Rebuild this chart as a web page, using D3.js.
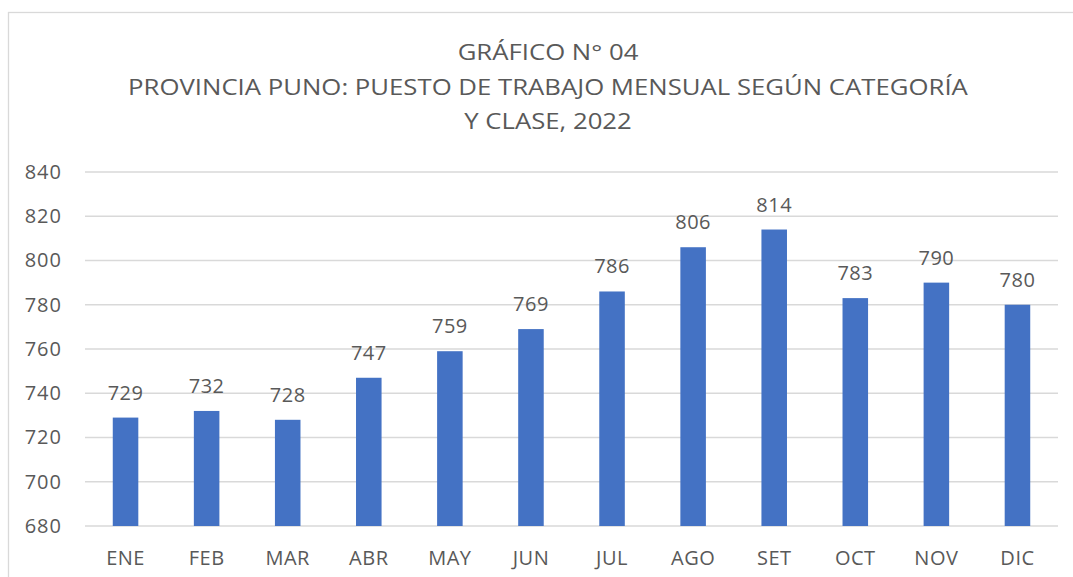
<!DOCTYPE html>
<html>
<head>
<meta charset="utf-8">
<title>Gráfico N° 04</title>
<style>
  body { margin: 0; background: #ffffff; }
  svg text { font-family: "Open Sans", sans-serif; fill: #595959; }
  .grid line { stroke: #d9d9d9; stroke-width: 1.3; }
  .bar { fill: #4472c4; }
</style>
<script src="https://d3js.org/d3.v7.min.js"></script>
</head>
<body>
<div id="canvas"></div>
<script>
// data
var meses = ["ENE", "FEB", "MAR", "ABR", "MAY", "JUN", "JUL", "AGO", "SET", "OCT", "NOV", "DIC"];
var puestos = [729, 732, 728, 747, 759, 769, 786, 806, 814, 783, 790, 780];
var yTicks = [680, 700, 720, 740, 760, 780, 800, 820, 840];
var titulo = ["GRÁFICO N° 04",
              "PROVINCIA PUNO: PUESTO DE TRABAJO MENSUAL SEGÚN CATEGORÍA",
              "Y CLASE, 2022"];

var W = 1073, H = 577;
var margin = {top: 172, right: 15, bottom: 51, left: 85};
var width = W - margin.left - margin.right,
    height = H - margin.top - margin.bottom;

var svg = d3.select("#canvas").append("svg")
    .attr("width", W).attr("height", H);

// chart border
svg.append("rect")
    .attr("x", 8.5).attr("y", 12.5)
    .attr("width", W + 10).attr("height", H + 10)
    .attr("fill", "none").attr("stroke", "#d9d9d9").attr("stroke-width", 1.3);

// title (the original text is a bit stretched sideways)
svg.selectAll(".titulo")
    .data(titulo)
    .enter().append("text")
    .attr("class", "titulo")
    .attr("transform", function(d, i) {
        return "translate(548," + (60 + i * 34.5) + ") scale(1.17,1)";
    })
    .attr("text-anchor", "middle")
    .style("font-size", "22px")
    .text(function(d) { return d; });

var g = svg.append("g")
    .attr("transform", "translate(" + margin.left + "," + margin.top + ")");

var x = d3.scaleBand().domain(meses).range([0, width])
    .paddingInner(0.685).paddingOuter(0.3425);
var y = d3.scaleLinear().domain([680, 840]).range([height, 0]);

// gridlines
g.append("g").attr("class", "grid")
  .selectAll("line")
  .data(yTicks)
  .enter().append("line")
    .attr("x1", 0).attr("x2", width)
    .attr("y1", function(d) { return y(d); })
    .attr("y2", function(d) { return y(d); });

// y axis labels
var yAxis = g.append("g")
    .call(d3.axisLeft(y).tickValues(yTicks).tickSize(0).tickPadding(23));
yAxis.select(".domain").remove();
yAxis.selectAll("text")
    .style("font-size", "20px")
    .style("letter-spacing", "1px")
    .style("font-family", "'Open Sans', sans-serif")
    .attr("fill", "#595959");

// x axis labels
var xAxis = g.append("g")
    .attr("transform", "translate(0," + height + ")")
    .call(d3.axisBottom(x).tickSize(0).tickPadding(25));
xAxis.select(".domain").remove();
xAxis.selectAll("text")
    .style("font-size", "20px")
    .style("letter-spacing", "0.5px")
    .style("font-family", "'Open Sans', sans-serif")
    .attr("fill", "#595959");

// bars
g.selectAll(".bar")
    .data(puestos)
    .enter().append("rect")
    .attr("class", "bar")
    .attr("x", function(d, i) { return x(meses[i]); })
    .attr("y", function(d) { return y(d); })
    .attr("width", x.bandwidth())
    .attr("height", function(d) { return height - y(d); });

// value labels
g.selectAll(".valor")
    .data(puestos)
    .enter().append("text")
    .attr("class", "valor")
    .attr("x", function(d, i) { return x(meses[i]) + x.bandwidth() / 2; })
    .attr("y", function(d) { return y(d) - 18; })
    .attr("text-anchor", "middle")
    .style("font-size", "20px")
    .style("letter-spacing", "0.5px")
    .text(function(d) { return d; });
</script>
</body>
</html>
